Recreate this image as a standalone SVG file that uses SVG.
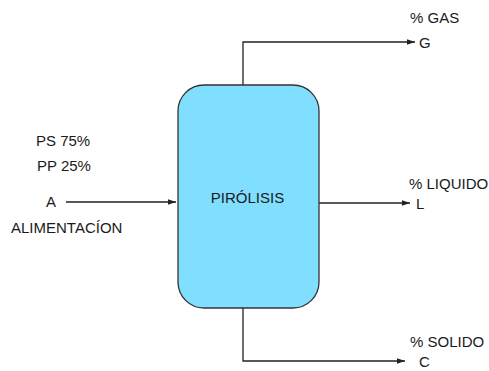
<svg xmlns="http://www.w3.org/2000/svg" width="489" height="371" viewBox="0 0 489 371">
<defs>
<style>
text{font-family:"Liberation Sans",Arial,sans-serif;font-size:15px;fill:#1a1a1a}
.c{fill:none;stroke:#222;stroke-width:1.3}
</style>
<marker id="ah" viewBox="0 0 10 10" refX="10" refY="5" markerWidth="8" markerHeight="8" markerUnits="userSpaceOnUse" orient="auto"><path d="M0,1.5 L10,5 L0,8.5 Z" fill="#222"/></marker>
</defs>
<rect width="489" height="371" fill="#fff"/>
<g id="connectors">
<path class="c" d="M66,202 H176" marker-end="url(#ah)"/>
<path class="c" d="M243,85 V42 H415" marker-end="url(#ah)"/>
<path class="c" d="M319,203 H410" marker-end="url(#ah)"/>
<path class="c" d="M243,308 V361 H405" marker-end="url(#ah)"/>
</g>
<g id="pirolisis">
<rect x="178" y="85" width="141" height="223" rx="26" fill="#80dfff" stroke="#333" stroke-width="1.3"/>
<text x="247.5" y="203" text-anchor="middle">PIRÓLISIS</text>
</g>
<g id="feed">
<text x="36" y="146">PS 75%</text>
<text x="37" y="171">PP 25%</text>
<text x="46" y="207">A</text>
<text x="11" y="233">ALIMENTACÍON</text>
</g>
<g id="gas">
<text x="410" y="23">% GAS</text>
<text x="419" y="48">G</text>
</g>
<g id="liquido">
<text x="409" y="189">% LIQUIDO</text>
<text x="416" y="209">L</text>
</g>
<g id="solido">
<text x="410" y="347">% SOLIDO</text>
<text x="419" y="367">C</text>
</g>
</svg>
